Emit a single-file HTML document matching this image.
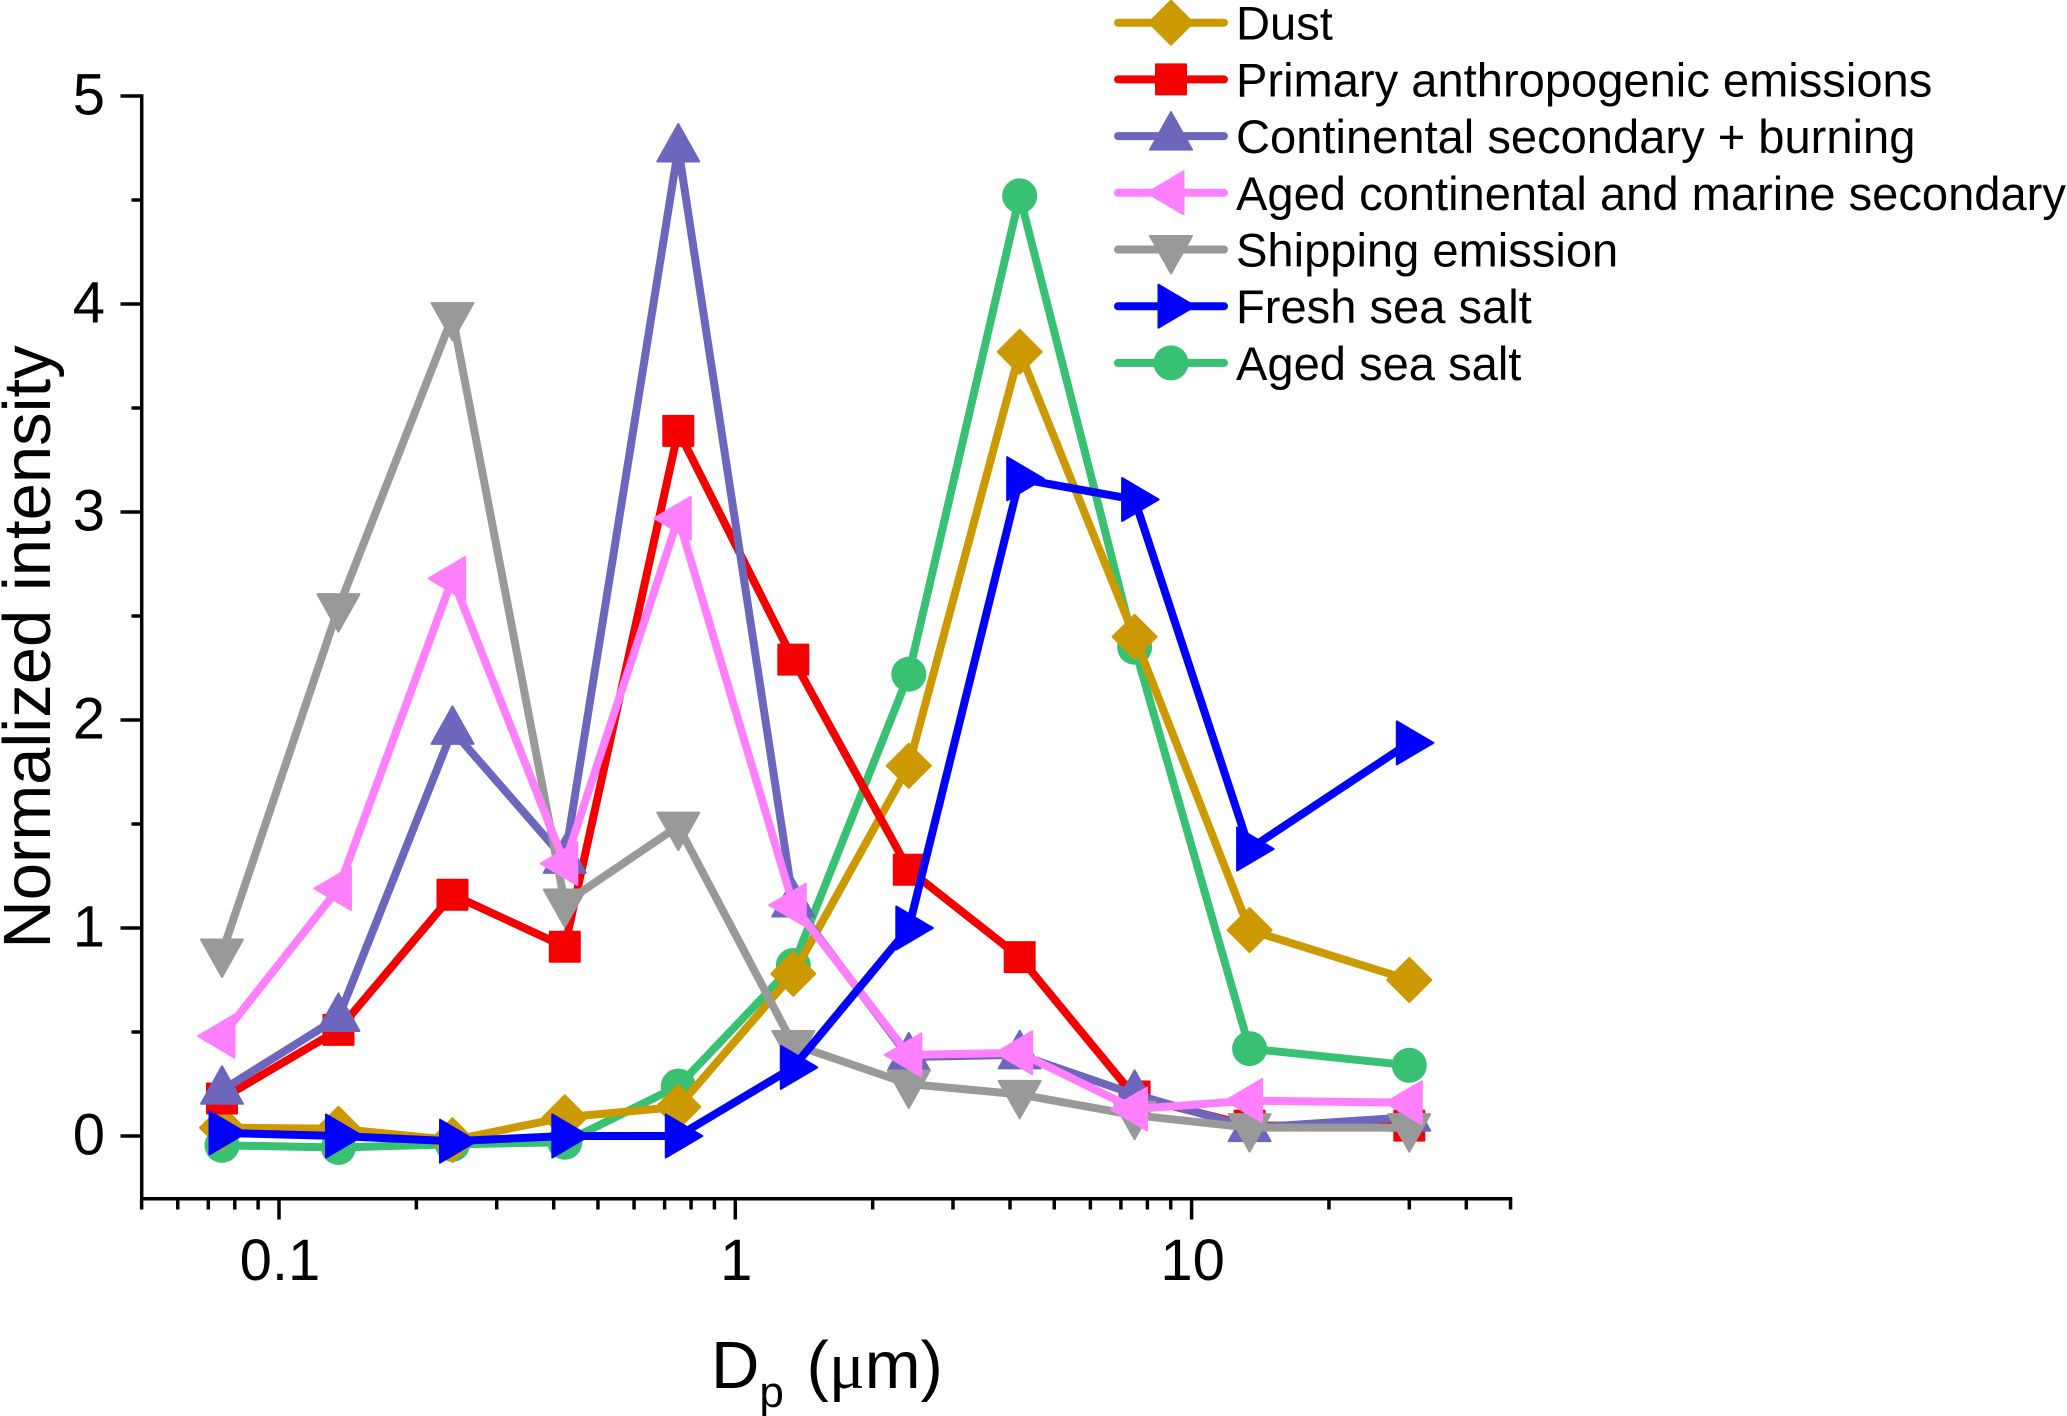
<!DOCTYPE html>
<html>
<head>
<meta charset="utf-8">
<title>Normalized intensity vs particle diameter</title>
<style>
html,body{margin:0;padding:0;background:#fff;}
svg{display:block;}
text{font-family:"Liberation Sans",Arial,sans-serif;fill:#000;}
</style>
</head>
<body>
<svg id="chart" xmlns="http://www.w3.org/2000/svg" width="2067" height="1416" viewBox="0 0 2067 1416"></svg>
<script>
const diameters = [0.075, 0.135, 0.24, 0.423, 0.75, 1.34, 2.4, 4.2, 7.5, 13.4, 30];
const dust = [0.04, 0.035, -0.02, 0.09, 0.14, 0.78, 1.78, 3.77, 2.4, 0.99, 0.75];
const primary = [0.18, 0.51, 1.16, 0.91, 3.39, 2.29, 1.28, 0.86, 0.19, 0.05, 0.05];
const continental = [0.22, 0.57, 1.95, 1.33, 4.75, 1.12, 0.38, 0.39, 0.2, 0.04, 0.09];
const agedContinental = [0.48, 1.19, 2.68, 1.31, 2.97, 1.11, 0.39, 0.4, 0.13, 0.17, 0.16];
const shipping = [0.88, 2.54, 3.94, 1.12, 1.49, 0.44, 0.25, 0.2, 0.1, 0.04, 0.04];
const freshSalt = [0.015, 0.0, -0.025, 0.0, 0.0, 0.33, 1.0, 3.16, 3.06, 1.38, 1.89];
const agedSalt = [-0.045, -0.055, -0.04, -0.03, 0.24, 0.82, 2.22, 4.52, 2.35, 0.42, 0.34];
const yTickLabels = ["0", "1", "2", "3", "4", "5"];
const xTickLabels = ["0.1", "1", "10"];

const svg = document.getElementById('chart');
const NS = 'http://www.w3.org/2000/svg';
const xPx = v => 279 + 456.3 * Math.log10(v / 0.1);
const yPx = v => 1136 - 208 * v;

function mk(tag, attrs, parent) {
  const el = document.createElementNS(NS, tag);
  for (const k in attrs) el.setAttribute(k, attrs[k]);
  (parent || svg).appendChild(el);
  return el;
}

const seriesList = [
  {key: 'dust', label: 'Dust', color: '#CC9900', shape: 'diamond', values: dust, legendRow: 0, z: 1},
  {key: 'primary', label: 'Primary anthropogenic emissions', color: '#F50000', shape: 'square', values: primary, legendRow: 1, z: 2},
  {key: 'continental', label: 'Continental secondary + burning', color: '#6C66BD', shape: 'up', values: continental, legendRow: 2, z: 3},
  {key: 'aged-continental', label: 'Aged continental and marine secondary', color: '#FF80FF', shape: 'left', values: agedContinental, legendRow: 3, z: 5},
  {key: 'shipping', label: 'Shipping emission', color: '#999999', shape: 'down', values: shipping, legendRow: 4, z: 4},
  {key: 'fresh-sea-salt', label: 'Fresh sea salt', color: '#0000FF', shape: 'right', values: freshSalt, legendRow: 5, z: 6},
  {key: 'aged-sea-salt', label: 'Aged sea salt', color: '#38C172', shape: 'circle', values: agedSalt, legendRow: 6, z: 0}
];

function marker(shape, cx, cy, color, parent) {
  const s = {fill: color, stroke: color, 'stroke-width': 2, 'stroke-linejoin': 'round'};
  let el;
  const pts = list => list.map(p => (cx + p[0]) + ',' + (cy + p[1])).join(' ');
  if (shape === 'diamond') el = mk('polygon', {points: pts([[0,-22],[22,0],[0,22],[-22,0]]), ...s}, parent);
  else if (shape === 'square') el = mk('rect', {x: cx - 15, y: cy - 15, width: 30, height: 30, ...s}, parent);
  else if (shape === 'up') el = mk('polygon', {points: pts([[0,-24],[21,13.5],[-21,13.5]]), ...s}, parent);
  else if (shape === 'down') el = mk('polygon', {points: pts([[0,24],[21,-13.5],[-21,-13.5]]), ...s}, parent);
  else if (shape === 'left') el = mk('polygon', {points: pts([[-24,0],[12.5,-21.5],[12.5,21.5]]), ...s}, parent);
  else if (shape === 'right') el = mk('polygon', {points: pts([[24,0],[-12.5,-21.5],[-12.5,21.5]]), ...s}, parent);
  else el = mk('circle', {cx: cx, cy: cy, r: 17.5, fill: color}, parent);
  return el;
}

/* axes */
const axisGroup = mk('g', {stroke: '#000', 'stroke-width': 3.5, fill: 'none'});


const yAxisLine = mk('line', {x1: 141.7, y1: yPx(5) - 1.75, x2: 141.7, y2: 1200.5}, axisGroup);


const xAxisLine = mk('line', {x1: 140, y1: 1198.8, x2: xPx(50) + 1.75, y2: 1198.8}, axisGroup);



yTickLabels.forEach(function (lab) {
  const v = Number(lab);
  const tick = mk('line', {x1: 120.5, y1: yPx(v), x2: 141, y2: yPx(v)}, axisGroup);
  
  
  const t = mk('text', {x: 105, y: yPx(v) + 18.5, 'text-anchor': 'end', 'font-size': 58});
  t.textContent = lab;
  
  
  if (v < 5) {
    const minor = mk('line', {x1: 131.5, y1: yPx(v + 0.5), x2: 141, y2: yPx(v + 0.5)}, axisGroup);
    
    
  }
});

xTickLabels.forEach(function (lab) {
  const v = Number(lab);
  const tick = mk('line', {x1: xPx(v), y1: 1199, x2: xPx(v), y2: 1219.5}, axisGroup);
  
  
  const t = mk('text', {x: xPx(v) + 1, y: 1280, 'text-anchor': 'middle', 'font-size': 58});
  t.textContent = lab;
  
  
});
[0.01, 0.1, 1, 10].forEach(function (dec) {
  for (let m = 2; m <= 9; m++) {
    const v = dec * m;
    if (v < 0.05 || v > 50) continue;
    const minor = mk('line', {x1: xPx(v), y1: 1199, x2: xPx(v), y2: 1209.5}, axisGroup);
    
    
  }
});

/* axis titles */
const yTitle = mk('text', {x: 0, y: 0, 'text-anchor': 'middle', 'font-size': 67, transform: 'translate(50 647) rotate(-90)'});
yTitle.textContent = 'Normalized intensity';



const xTitle = mk('text', {x: 711, y: 1388, 'font-size': 67});


const tD = mk('tspan', {}, xTitle); tD.textContent = 'D';
const tP = mk('tspan', {'font-size': 44, dy: 19}, xTitle); tP.textContent = 'p';
const tRest = mk('tspan', {dy: -19, dx: 4}, xTitle); tRest.textContent = ' (';
const tMu = mk('tspan', {'font-family': '"Liberation Serif",serif'}, xTitle); tMu.textContent = 'μ';
const tEnd = mk('tspan', {}, xTitle); tEnd.textContent = 'm)';

/* series, drawn back to front */
seriesList.slice().sort((a, b) => a.z - b.z).forEach(function (s) {
  const g = mk('g', {});
  
  
  const line = mk('polyline', {
    points: s.values.map((v, i) => xPx(diameters[i]) + ',' + yPx(v)).join(' '),
    fill: 'none', stroke: s.color, 'stroke-width': 8, 'stroke-linejoin': 'round'
  }, g);
  
  
  s.values.forEach(function (v, i) {
    const p = marker(s.shape, xPx(diameters[i]), yPx(v), s.color, g);
    
    
  });
});

/* legend */
const legend = mk('g', {});


seriesList.forEach(function (s) {
  const y = 22.7 + 56.7 * s.legendRow;
  const row = mk('g', {}, legend);
  
  
  const ln = mk('line', {x1: 1118, y1: y, x2: 1224, y2: y, stroke: s.color, 'stroke-width': 8, 'stroke-linecap': 'round'}, row);
  
  
  const mm = marker(s.shape, 1171, y, s.color, row);
  
  
  const t = mk('text', {x: 1236, y: y + 17, 'font-size': 47.1}, row);
  t.textContent = s.label;
  
  
});
</script>
</body>
</html>
